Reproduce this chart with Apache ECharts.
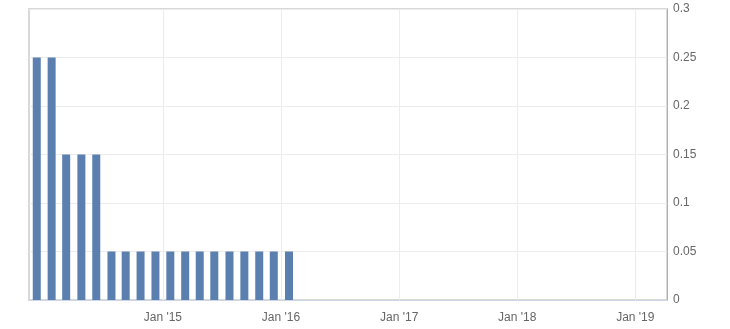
<!DOCTYPE html>
<html>
<head>
<meta charset="utf-8">
<script src="https://cdn.jsdelivr.net/npm/echarts@6/dist/echarts.min.js"></script>
<style>
html,body{margin:0;padding:0;background:#fff;}
#chart{width:730px;height:329px;}
</style>
</head>
<body>
<div id="chart"></div>
<script>
var dates = [
  '2013-12-07','2014-01-22','2014-03-08','2014-04-24','2014-06-09','2014-07-26',
  '2014-09-08','2014-10-24','2014-12-09','2015-01-24','2015-03-11','2015-04-25',
  '2015-06-09','2015-07-26','2015-09-10','2015-10-26','2015-12-10','2016-01-26',
  '2016-03-10','2016-04-21','2016-06-02','2016-07-21','2016-09-08','2016-10-20',
  '2016-12-08','2017-01-19','2017-03-09','2017-04-27','2017-06-08','2017-07-20',
  '2017-09-07','2017-10-26','2017-12-14','2018-01-25','2018-03-08','2018-04-26',
  '2018-06-14','2018-07-26','2018-09-13','2018-10-25','2018-12-13','2019-01-24',
  '2019-03-07'
];
var values = [
  0.25,0.25,0.15,0.15,0.15,0.05,
  0.05,0.05,0.05,0.05,0.05,0.05,
  0.05,0.05,0.05,0.05,0.05,0.05,
  0,0,0,0,0,0,
  0,0,0,0,0,0,
  0,0,0,0,0,0,
  0,0,0,0,0,0,
  0
];
var yearTicks = ['2015-01-01','2016-01-01','2017-01-01','2018-01-01','2019-01-01'];
var yTicks = [0, 0.05, 0.1, 0.15, 0.2, 0.25, 0.3];
var xMin = '2013-11-13';
var xMax = '2019-04-09';

function ts(s){ var p = s.split('-'); return new Date(+p[0], +p[1]-1, +p[2]).getTime(); }

var chart = echarts.init(document.getElementById('chart'), null, {renderer:'canvas'});
var data = dates.map(function(d,i){ return [ts(d), values[i]]; });
var tickVals = yearTicks.map(ts);

chart.setOption({
  animation: false,
  backgroundColor: '#fff',
  grid: {left: 29, right: 63, top: 9, bottom: 29, show: true, borderColor: '#d8d8d8', borderWidth: 2, backgroundColor: 'transparent'},
  xAxis: {
    type: 'value',
    min: ts(xMin),
    max: ts(xMax),
    axisLine: {show: true, lineStyle: {color: '#ccd6eb', width: 1}},
    axisTick: {show: false, customValues: tickVals},
    axisLabel: {
      customValues: tickVals,
      color: '#666',
      fontSize: 12,
      fontFamily: 'Arial, Liberation Sans, sans-serif',
      margin: 12,
      formatter: function(v){ var y = new Date(v).getFullYear(); return "Jan '" + String(y).slice(2); }
    },
    splitLine: {show: true, lineStyle: {color: '#ececec', width: 1}}
  },
  yAxis: {
    type: 'value',
    position: 'right',
    min: yTicks[0],
    max: yTicks[yTicks.length-1],
    interval: 0.05,
    axisLine: {show: true, lineStyle: {color: '#b0b0b0', width: 1}},
    axisTick: {show: false},
    axisLabel: {
      color: '#666',
      fontSize: 12,
      fontFamily: 'Arial, Liberation Sans, sans-serif',
      margin: 6,
      formatter: function(v){ return String(+v.toFixed(2)); }
    },
    splitLine: {show: true, lineStyle: {color: '#ececec', width: 1}}
  },
  series: [{
    type: 'bar',
    data: data,
    barWidth: 8,
    itemStyle: {color: '#5b80b0', borderWidth: 0}
  }]
});
</script>
</body>
</html>
